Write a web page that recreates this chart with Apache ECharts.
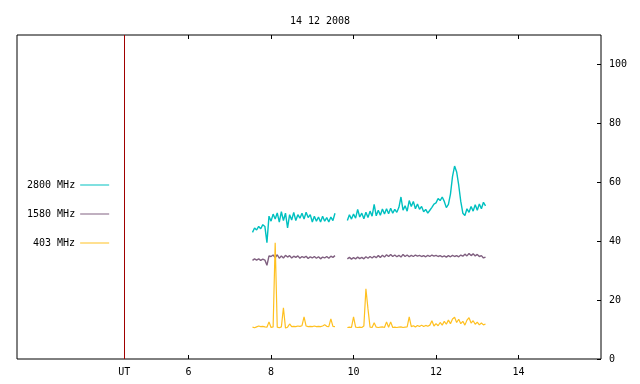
<!DOCTYPE html>
<html>
<head>
<meta charset="utf-8">
<script src="https://cdn.jsdelivr.net/npm/echarts@6/dist/echarts.min.js"></script>
<style>
  html, body { margin: 0; padding: 0; background: #fff; }
  #chart { width: 640px; height: 384px; }
</style>
</head>
<body>
<div id="chart"></div>
<script>
  // time of day (UT, hours), first and second observing block
  var timesA = [7.55, 7.60, 7.65, 7.70, 7.75, 7.80, 7.85, 7.90, 7.95, 8.00,
                8.05, 8.10, 8.15, 8.20, 8.25, 8.30, 8.35, 8.40, 8.45, 8.50,
                8.55, 8.60, 8.65, 8.70, 8.75, 8.80, 8.85, 8.90, 8.95, 9.00,
                9.05, 9.10, 9.15, 9.20, 9.25, 9.30, 9.35, 9.40, 9.45, 9.50, 9.55];
  var timesB = [9.85, 9.90, 9.95, 10.00, 10.05, 10.10, 10.15, 10.20, 10.25, 10.30,
                10.35, 10.40, 10.45, 10.50, 10.55, 10.60, 10.65, 10.70, 10.75, 10.80,
                10.85, 10.90, 10.95, 11.00, 11.05, 11.10, 11.15, 11.20, 11.25, 11.30,
                11.35, 11.40, 11.45, 11.50, 11.55, 11.60, 11.65, 11.70, 11.75, 11.80,
                11.85, 11.90, 11.95, 12.00, 12.05, 12.10, 12.15, 12.20, 12.25, 12.30,
                12.35, 12.40, 12.45, 12.50, 12.55, 12.60, 12.65, 12.70, 12.75, 12.80,
                12.85, 12.90, 12.95, 13.00, 13.05, 13.10, 13.15, 13.20];

  // 2800 MHz
  var f2800A = [43.0, 44.5, 43.8, 45.0, 44.2, 45.6, 45.0, 39.5, 48.5, 46.8,
                49.2, 47.5, 49.6, 46.5, 50.0, 47.0, 49.5, 44.5, 49.0, 47.2,
                49.8, 47.0, 49.0, 47.8, 49.5, 47.5, 49.8, 48.0, 49.0, 46.5,
                48.5, 46.8, 48.2, 46.5, 48.5, 46.8, 48.0, 46.5, 48.2, 47.0, 49.5];
  var f2800B = [47.0, 49.0, 47.5, 49.2, 47.8, 50.8, 48.2, 49.5, 47.6, 49.8,
                48.0, 50.2, 48.5, 52.5, 48.6, 50.5, 48.8, 50.9, 49.2, 51.0,
                49.3, 51.2, 49.5, 50.8, 49.8, 51.5, 55.0, 50.5, 52.0, 50.2,
                53.8, 51.8, 53.5, 51.0, 52.6, 50.8, 51.8, 50.0, 50.8, 49.5,
                50.5, 51.5, 52.6, 53.0, 54.5, 53.8, 55.0, 53.5, 51.4, 52.5,
                56.0, 62.0, 65.5, 63.5, 59.0, 53.5, 49.5, 48.7, 51.0, 49.8,
                51.8, 50.2, 52.4, 50.5, 52.6, 51.0, 53.2, 52.0];

  // 1580 MHz
  var f1580A = [33.5, 34.0, 33.6, 34.0, 33.5, 33.9, 33.6, 31.8, 35.0, 34.8,
                35.3, 34.4, 35.4, 34.2, 35.0, 34.3, 35.2, 34.6, 35.1, 34.3,
                34.9, 34.5, 35.0, 34.2, 34.8, 34.4, 34.9, 34.1, 34.7, 34.3,
                34.8, 34.2, 34.7, 34.0, 34.6, 34.3, 34.8, 34.2, 34.9, 34.5, 35.1];
  var f1580B = [34.0, 34.5, 33.9, 34.4, 34.0, 34.6, 34.1, 34.5, 34.0, 34.7,
                34.2, 34.8, 34.3, 34.9, 34.4, 35.1, 34.5, 35.2, 34.6, 35.4,
                34.8, 35.5, 34.8, 35.3, 34.7, 35.2, 34.6, 35.5, 34.8, 35.3,
                34.7, 35.2, 34.8, 35.3, 34.9, 35.2, 34.8, 35.1, 34.7, 35.2,
                34.8, 35.3, 34.9, 35.2, 34.8, 35.1, 34.7, 35.0, 34.6, 35.1,
                34.7, 35.2, 34.8, 35.1, 34.7, 35.3, 34.9, 35.6, 35.0, 35.8,
                35.1, 35.7, 35.0, 35.5, 34.8, 35.1, 34.3, 34.6];

  // 403 MHz
  var f403A = [10.8, 10.6, 10.9, 11.2, 11.0, 11.1, 10.9, 10.8, 12.6, 10.7,
               10.9, 39.5, 10.8, 10.6, 10.9, 17.4, 10.5, 10.8, 11.9, 11.0,
               11.1, 11.0, 11.2, 11.1, 11.3, 14.3, 11.2, 11.0, 11.1, 11.0,
               11.2, 11.0, 11.1, 11.0, 11.2, 11.6, 11.1, 11.0, 13.6, 11.1, 11.0];
  var f403B = [10.7, 10.8, 10.7, 14.3, 10.8, 10.7, 10.8, 10.7, 11.2, 23.8,
               17.0, 10.8, 10.7, 12.3, 10.8, 10.7, 10.8, 10.9, 10.7, 12.6,
               10.8, 12.6, 10.7, 10.8, 10.7, 10.8, 10.9, 10.7, 10.8, 10.9,
               14.3, 11.0, 11.3, 10.9, 11.4, 11.0, 11.5, 11.0, 11.4, 11.1,
               11.5, 13.0, 11.2, 12.0, 11.3, 12.4, 11.5, 12.8, 11.8, 13.2,
               12.0, 13.6, 14.2, 12.4, 13.5, 12.0, 12.8, 11.5, 13.2, 14.0,
               12.2, 13.0, 11.8, 12.5, 11.6, 12.2, 11.6, 11.9];

  var xTicks = [6, 8, 10, 12, 14];
  var utMark = 4.44;
  var yTicks = [0, 20, 40, 60, 80, 100];

  var font = 'DejaVu Sans Mono';

  // join the two blocks with a gap between them
  function joinBlocks(a, va, b, vb) {
    var out = [];
    for (var i = 0; i < a.length; i++) out.push([a[i], va[i]]);
    out.push([(a[a.length - 1] + b[0]) / 2, null]);
    for (var j = 0; j < b.length; j++) out.push([b[j], vb[j]]);
    return out;
  }

  function legendFor(name, left, top) {
    return {
      data: [name],
      left: left,
      top: top,
      padding: 0,
      align: 'right',
      icon: 'rect',
      itemWidth: 29,
      itemHeight: 1,
      selectedMode: false,
      textStyle: { fontFamily: font, fontSize: 10, color: '#000' }
    };
  }

  var chart = echarts.init(document.getElementById('chart'));

  chart.setOption({
    animation: false,
    backgroundColor: '#fff',
    title: {
      text: '14 12 2008',
      left: 'center',
      top: 11,
      textStyle: { fontFamily: font, fontSize: 10, fontWeight: 'normal', color: '#000' }
    },
    legend: [
      legendFor('2800 MHz', 27, 180),
      legendFor('1580 MHz', 27, 209),
      legendFor('403 MHz', 33, 238)
    ],
    grid: {
      left: 17, right: 39, top: 35, bottom: 25,
      show: true, borderColor: '#000', borderWidth: 1
    },
    xAxis: [{
      type: 'value',
      min: 1.84,
      max: 16,
      position: 'bottom',
      axisLine: { show: false },
      splitLine: { show: false },
      axisTick: { show: true, inside: true, length: 4, customValues: xTicks, lineStyle: { color: '#000' } },
      axisLabel: {
        customValues: [utMark].concat(xTicks),
        margin: 8,
        fontFamily: font, fontSize: 10, color: '#000',
        formatter: function (v) { return Math.abs(v - utMark) < 0.01 ? 'UT' : String(v); }
      }
    }, {
      type: 'value',
      min: 1.84,
      max: 16,
      position: 'top',
      axisLine: { show: false },
      splitLine: { show: false },
      axisTick: { show: true, inside: true, length: 4, customValues: xTicks, lineStyle: { color: '#000' } },
      axisLabel: { show: false }
    }],
    yAxis: {
      type: 'value',
      min: 0,
      max: 110,
      position: 'right',
      axisLine: { show: false },
      splitLine: { show: false },
      axisTick: { show: true, inside: true, length: 4, customValues: yTicks, lineStyle: { color: '#000' } },
      axisLabel: { customValues: yTicks, margin: 8, fontFamily: font, fontSize: 10, color: '#000' }
    },
    series: [{
      name: '2800 MHz',
      type: 'line',
      showSymbol: false,
      symbol: 'none',
      connectNulls: false,
      color: '#00c0c0',
      lineStyle: { width: 1.4, color: '#00c0c0' },
      data: joinBlocks(timesA, f2800A, timesB, f2800B),
      markLine: {
        silent: true,
        symbol: ['none', 'none'],
        label: { show: false },
        lineStyle: { color: '#a00000', width: 1, type: 'solid' },
        data: [{ xAxis: utMark }]
      }
    }, {
      name: '1580 MHz',
      type: 'line',
      showSymbol: false,
      symbol: 'none',
      connectNulls: false,
      color: '#806080',
      lineStyle: { width: 1.4, color: '#806080' },
      data: joinBlocks(timesA, f1580A, timesB, f1580B)
    }, {
      name: '403 MHz',
      type: 'line',
      showSymbol: false,
      symbol: 'none',
      connectNulls: false,
      color: '#ffc020',
      lineStyle: { width: 1.2, color: '#ffc020' },
      data: joinBlocks(timesA, f403A, timesB, f403B)
    }]
  });
</script>
</body>
</html>
